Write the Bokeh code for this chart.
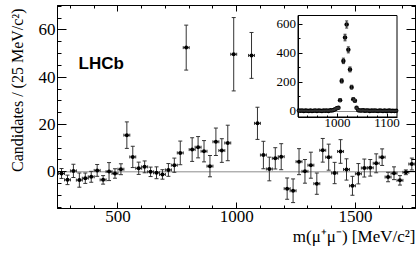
from bokeh.plotting import figure
from bokeh.models import (Range1d, LinearAxis, FixedTicker, Span, Whisker, TeeHead,
                          ColumnDataSource, Title, Label)
from bokeh.embed import file_html
from bokeh.resources import INLINE

# ---------------- data (main plot, 25 MeV bins) ----------------
mass = [262.5, 287.5, 312.5, 337.5, 362.5, 387.5, 412.5, 437.5, 462.5, 487.5,
        512.5, 537.5, 562.5, 587.5, 612.5, 637.5, 662.5, 687.5, 712.5, 737.5,
        762.5, 787.5, 812.5, 837.5, 862.5, 887.5, 912.5, 937.5, 962.5, 987.5,
        1062.5, 1087.5, 1112.5, 1137.5, 1162.5, 1187.5, 1212.5, 1237.5, 1262.5, 1287.5,
        1312.5, 1337.5, 1362.5, 1387.5, 1412.5, 1437.5, 1462.5, 1487.5, 1512.5, 1537.5,
        1562.5, 1587.5, 1612.5, 1637.5, 1662.5, 1687.5, 1712.5, 1737.5]
cands = [-0.7, -3.4, 0.4, -3.5, -2.7, -2.1, 0.6, -3.4, 0.1, -0.7,
         1.1, 15.5, 6.3, 1.5, 2.1, 0.0, -0.4, -1.1, 0.8, 2.8,
         8.0, 52.5, 9.4, 10.4, 8.7, 2.4, 12.7, 9.0, 12.2, 49.7,
         49.2, 20.5, 7.1, 1.2, 5.7, 6.4, -7.1, -8.0, 4.3, 0.2,
         2.8, -5.0, 9.1, 6.2, -0.5, 8.6, 1.0, -5.9, -0.8, 1.6,
         1.7, 3.6, 6.2, -2.2, -0.6, -3.6, -0.2, 3.3]
cands_err = [2.1, 2.0, 2.8, 3.0, 2.2, 2.3, 2.5, 1.8, 3.8, 2.0,
             2.3, 5.6, 4.5, 2.6, 2.5, 2.0, 2.5, 2.0, 2.7, 3.0,
             5.0, 9.5, 5.0, 4.5, 4.5, 4.5, 5.8, 5.0, 7.5, 15.5,
             9.7, 6.8, 5.8, 5.0, 4.5, 5.5, 4.5, 5.0, 5.5, 5.0,
             5.5, 4.5, 5.0, 5.5, 4.5, 5.0, 4.5, 4.0, 4.3, 3.8,
             3.5, 4.0, 3.5, 2.0, 2.7, 2.0, 1.0, 2.5]
bin_half = 12.5

# ---------------- data (inset, phi region) ----------------
phi_mass = [921.7, 925.0, 928.3, 931.7, 935.0, 938.3, 941.7, 945.0, 948.3, 951.7,
            955.0, 958.3, 961.7, 965.0, 968.3, 971.7, 975.0, 978.3, 981.7, 985.0,
            988.3, 991.7, 995.0, 998.3, 1001.7, 1005.0, 1008.3, 1011.7, 1015.0, 1018.3,
            1021.7, 1025.0, 1028.3, 1031.7, 1035.0, 1038.3, 1041.7, 1045.0, 1048.3, 1051.7,
            1055.0, 1058.3, 1061.7, 1065.0, 1068.3, 1071.7, 1075.0, 1078.3, 1081.7, 1085.0,
            1088.3, 1091.7, 1095.0, 1098.3, 1101.7, 1105.0, 1108.3, 1111.7, 1115.0, 1118.3]
phi_cands = [6, 5, 7, 4, 6, 5, 3, 6, 4, 5,
             7, 4, 6, 5, 3, 6, 5, 7, 4, 8,
             6, 10, 15, 22, 25, 78, 211, 349, 510, 600,
             425, 290, 168, 85, 74, 25, 9, 7, 6, 8,
             5, 7, 6, 4, 6, 5, 7, 5, 4, 6,
             5, 3, 6, 4, 5, 6, 4, 5, 3, 5]
phi_err = [2.5, 2.2, 2.6, 2.0, 2.5, 2.2, 1.7, 2.5, 2.0, 2.2,
           2.6, 2.0, 2.5, 2.2, 1.7, 2.5, 2.2, 2.6, 2.0, 2.8,
           2.5, 3.2, 3.9, 4.7, 5.0, 8.8, 14.5, 18.7, 22.6, 24.5,
           20.6, 17.0, 13.0, 9.2, 8.6, 5.0, 3.0, 2.6, 2.5, 2.8,
           2.2, 2.6, 2.5, 2.0, 2.5, 2.2, 2.6, 2.2, 2.0, 2.5,
           2.2, 1.7, 2.5, 2.0, 2.2, 2.5, 2.0, 2.2, 1.7, 2.2]

# ---------------- ticks ----------------
x_ticks = [500, 1000, 1500]
x_minor = [300, 400, 600, 700, 800, 900, 1100, 1200, 1300, 1400, 1600, 1700]
y_ticks = [0, 20, 40, 60]
y_minor = [-15, -10, -5, 5, 10, 15, 25, 30, 35, 45, 50, 55, 65, 70]
ins_x_ticks = [1000, 1100]
ins_x_minor = [940, 960, 980, 1020, 1040, 1060, 1080]
ins_y_ticks = [0, 200, 400, 600]
ins_y_minor = [100, 300, 500]

# ---------------- geometry ----------------
W, H = 419, 256
FL, FR, FT, FB = 57, 415, 5, 208
X0, X1 = 245.5, 1753.0
Y0, Y1 = -15.5, 70.3
IL, IR, IT, IB = 297.5, 396.5, 15.0, 116.5
IX0, IX1 = 920.0, 1120.0
IY0, IY1 = -38.0, 662.0

sx = (IX1 - IX0) / (IR - IL)
sy = (IY1 - IY0) / (IB - IT)
ix_range = Range1d(IX0 - (IL - FL) * sx, IX1 + (FR - IR) * sx)
iy_range = Range1d(IY0 - (FB - IB) * sy, IY1 + (IT - FT) * sy)

SERIF = "Liberation Serif"

p = figure(width=W, height=H, x_range=Range1d(X0, X1), y_range=Range1d(Y0, Y1),
           output_backend="svg", toolbar_location=None,
           min_border_left=FL, min_border_right=W - FR,
           min_border_top=FT, min_border_bottom=H - FB)
p.grid.visible = False
p.outline_line_color = "black"
p.background_fill_color = "white"
p.border_fill_color = "white"
p.extra_x_ranges = {"ix": ix_range}
p.extra_y_ranges = {"iy": iy_range}


def style_axis(ax, tin, tmin, fsize="17px", standoff=2):
    ax.axis_line_color = "black"
    ax.major_tick_line_color = "black"
    ax.minor_tick_line_color = "black"
    ax.major_tick_in = tin
    ax.major_tick_out = 0
    ax.minor_tick_in = tmin
    ax.minor_tick_out = 0
    ax.major_label_text_font = SERIF
    ax.major_label_text_font_size = fsize
    ax.major_label_text_color = "black"
    ax.major_label_standoff = standoff


bx = p.below[0]
bx.ticker = FixedTicker(ticks=x_ticks, minor_ticks=x_minor)
style_axis(bx, 6, 3)
ly = p.left[0]
ly.ticker = FixedTicker(ticks=y_ticks, minor_ticks=y_minor)
style_axis(ly, 9, 4)

tx = LinearAxis(ticker=FixedTicker(ticks=x_ticks, minor_ticks=x_minor),
                major_label_overrides={t: "" for t in x_ticks})
style_axis(tx, 6, 3, fsize="0px", standoff=0)
p.add_layout(tx, "above")
ry = LinearAxis(ticker=FixedTicker(ticks=y_ticks, minor_ticks=y_minor),
                major_label_overrides={t: "" for t in y_ticks})
style_axis(ry, 9, 4, fsize="0px", standoff=0)
p.add_layout(ry, "right")

# axis titles
xt = Title(text="m(μ⁺μ⁻) [MeV/c²]", align="right", text_font=SERIF,
           text_font_size="17px", text_font_style="normal", text_color="black",
           standoff=0)
p.add_layout(xt, "below")
yt = Title(text="Candidates / (25 MeV/c²)", align="right", vertical_align="top",
           text_font=SERIF, text_font_size="16px", text_font_style="normal",
           text_color="black", standoff=16, offset=3)
p.add_layout(yt, "left")

# zero line
p.add_layout(Span(location=0, dimension="width", line_color="#8c8c8c", line_width=1,
                  level="underlay"))

# main data
src = ColumnDataSource(dict(
    x=mass, y=cands,
    lo=[v - e for v, e in zip(cands, cands_err)],
    hi=[v + e for v, e in zip(cands, cands_err)],
    xl=[m - bin_half for m in mass],
    xr=[m + bin_half for m in mass],
))
ecol = "#333333"
p.add_layout(Whisker(source=src, base="x", lower="lo", upper="hi", dimension="height",
                     line_color=ecol, line_width=1,
                     lower_head=TeeHead(size=4, line_color=ecol, line_width=1),
                     upper_head=TeeHead(size=4, line_color=ecol, line_width=1)))
p.add_layout(Whisker(source=src, base="y", lower="xl", upper="xr", dimension="width",
                     line_color=ecol, line_width=1,
                     lower_head=TeeHead(size=3, line_color=ecol, line_width=1),
                     upper_head=TeeHead(size=3, line_color=ecol, line_width=1)))
p.scatter("x", "y", source=src, size=4, color="black", line_width=0)

p.add_layout(Label(x=334, y=45.7, text="LHCb", text_font="Liberation Sans",
                   text_font_style="bold", text_font_size="17px", text_color="black",
                   text_baseline="alphabetic"))

# ---------------- inset ----------------
p.quad(left=[IX0], right=[IX1], bottom=[IY0], top=[IY1], x_range_name="ix",
       y_range_name="iy", fill_color="white", line_color="black", line_width=1)
p.line([IX0, IX1], [0, 0], x_range_name="ix", y_range_name="iy",
       line_color="#8c8c8c", line_width=1)
isrc = ColumnDataSource(dict(
    x=phi_mass, y=phi_cands,
    lo=[v - e for v, e in zip(phi_cands, phi_err)],
    hi=[v + e for v, e in zip(phi_cands, phi_err)],
))
p.add_layout(Whisker(source=isrc, base="x", lower="lo", upper="hi", dimension="height",
                     x_range_name="ix", y_range_name="iy", level="annotation",
                     line_color=ecol, line_width=1,
                     lower_head=TeeHead(size=3, line_color=ecol, line_width=1),
                     upper_head=TeeHead(size=3, line_color=ecol, line_width=1)))
p.scatter("x", "y", source=isrc, x_range_name="ix", y_range_name="iy",
          size=4.5, color="black", line_width=0)

iax = LinearAxis(x_range_name="ix", y_range_name="iy", fixed_location=IY0,
                 bounds=(IX0, IX1),
                 ticker=FixedTicker(ticks=ins_x_ticks, minor_ticks=ins_x_minor))
style_axis(iax, 4, 2, fsize="13px", standoff=2)
p.add_layout(iax, "below")
iay = LinearAxis(x_range_name="ix", y_range_name="iy", fixed_location=IX0,
                 bounds=(IY0, IY1),
                 ticker=FixedTicker(ticks=ins_y_ticks, minor_ticks=ins_y_minor))
style_axis(iay, 4, 2, fsize="13px", standoff=2)
p.add_layout(iay, "left")

open("out.html", "w").write(file_html(p, INLINE))
